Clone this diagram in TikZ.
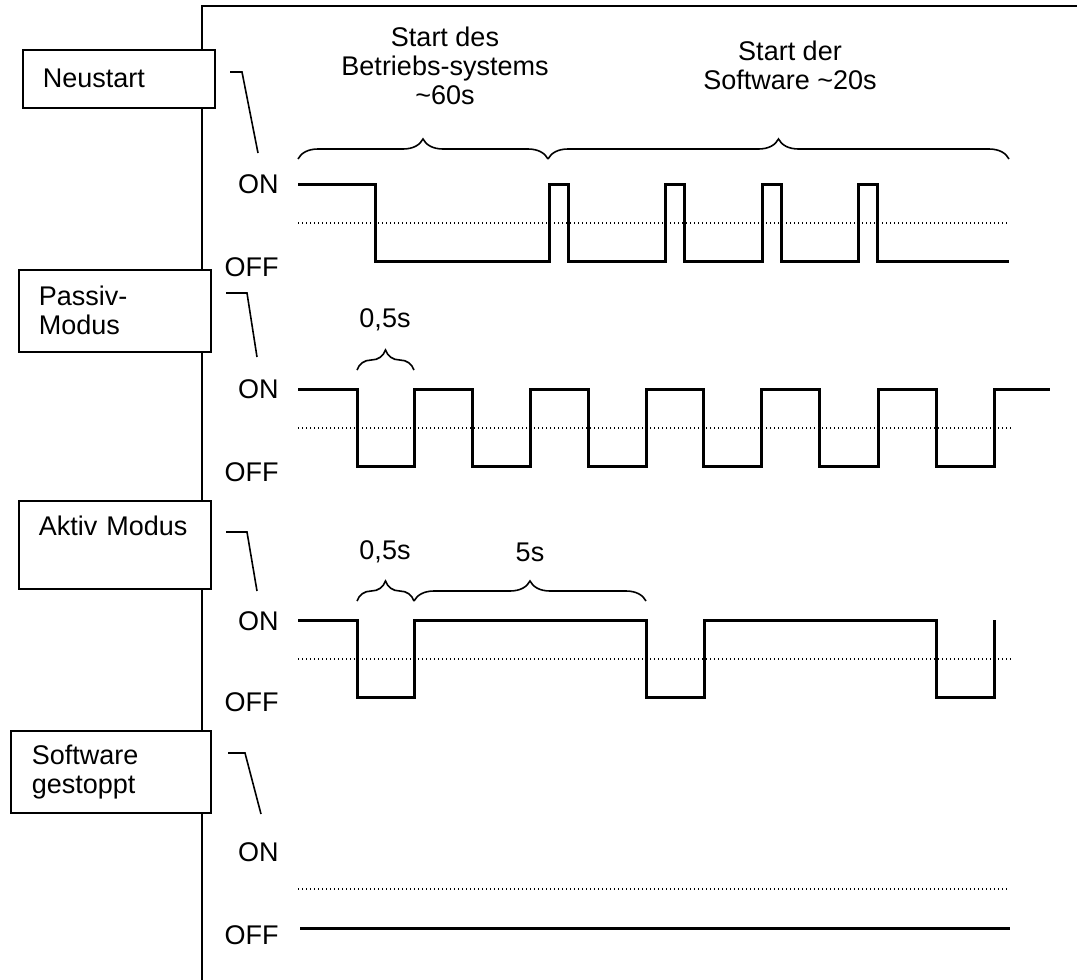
\documentclass[tikz,border=0pt]{standalone}
\usepackage{fontspec}
\setmainfont{Liberation Sans}
\usetikzlibrary{decorations.pathreplacing}

\tikzset{
  modbox/.style={draw, line width=0.8pt, fill=white, anchor=north west, align=left, inner xsep=10pt, inner ysep=0pt},
  signal/.style={black, line width=1.5pt},
  schwelle/.style={black, line width=0.6pt, dash pattern=on 0.5pt off 1.5pt},
  klammer/.style={black, line width=0.8pt, decorate, decoration={brace, amplitude=10pt}},
  pegel/.style={anchor=east, inner sep=0pt},
  haken/.style={black, line width=0.8pt},
}

\begin{document}
\begin{tikzpicture}[x=0.5pt, y=-0.5pt, font=\fontsize{13.5pt}{14.5pt}\selectfont]
        \useasboundingbox (0,0) rectangle (1077,980);

        % Rahmen
        \draw[black, line width=0.8pt] (202,980) -- (202,6) -- (1077,6);

        % Modus-Kaesten
        \node[modbox, minimum width=96pt, minimum height=29pt, text width=76pt] (neustart) at (22,49) {Neustart};
        \node[modbox, minimum width=96pt, minimum height=41pt, text width=76pt] (passiv) at (18,269) {Passiv-\\Modus};
        \node[modbox, minimum width=96pt, minimum height=44pt, text width=76pt] (aktiv) at (18,500) {Aktiv Modus\\\strut};
        \node[modbox, minimum width=100pt, minimum height=41pt, text width=79pt, inner xsep=10.5pt] (gestoppt) at (10,730) {Software\\gestoppt};

        % Haken
        \draw[haken] (230,72) -- (242,72) -- (258,153);
        \draw[haken] (226,293) -- (247,293) -- (257,357);
        \draw[haken] (226,532) -- (247,532) -- (257,591);
        \draw[haken] (228,753) -- (245,753) -- (261,814);

        % Pegel
        \node[pegel] (nOn) at (279,184) {ON};
        \node[pegel] (nOff) at (279,267) {OFF};
        \node[pegel] (pOn) at (279,389) {ON};
        \node[pegel] (pOff) at (279,472) {OFF};
        \node[pegel] (aOn) at (279,621) {ON};
        \node[pegel] (aOff) at (279,702) {OFF};
        \node[pegel] (sOn) at (279,852) {ON};
        \node[pegel] (sOff) at (279,935) {OFF};

        % Neustart
        \draw[schwelle] (298,223) -- (1009,223);
        \draw[signal] (298,184) -- (375,184) -- (375,261) -- (549,261) -- (549,184) -- (568,184) -- (568,261)
            -- (665,261) -- (665,184) -- (684,184) -- (684,261) -- (762,261) -- (762,184) -- (781,184) -- (781,261)
            -- (858,261) -- (858,184) -- (877,184) -- (877,261) -- (1009,261);
        \draw[klammer] (298,159) -- (548,159);
        \draw[klammer] (548,159) -- (1009,159);
        \node[align=center] (bsText) at (445,66) {Start des\\Betriebs-systems\\\textasciitilde 60s};
        \node[align=center] (swText) at (790,65) {Start der\\Software \textasciitilde 20s};

        % Passiv-Modus
        \draw[schwelle] (298,428) -- (1011,428);
        \draw[signal] (298,389) -- (357,389) -- (357,466) -- (414,466) -- (414,389) -- (472,389) -- (472,466)
            -- (530,466) -- (530,389) -- (588,389) -- (588,466) -- (646,466) -- (646,389) -- (703,389) -- (703,466)
            -- (761,466) -- (761,389) -- (819,389) -- (819,466) -- (878,466) -- (878,389) -- (936,389) -- (936,466)
            -- (994,466) -- (994,389) -- (1050,389);
        \draw[klammer] (357,370) -- (414,370);
        \node (pHalb) at (385,320) {0,5s};

        % Aktiv Modus
        \draw[schwelle] (298,659) -- (1011,659);
        \draw[signal] (298,620) -- (357,620) -- (357,697) -- (414,697) -- (414,620) -- (646,620) -- (646,697)
            -- (704,697) -- (704,620) -- (936,620) -- (936,697) -- (994,697) -- (994,620);
        \draw[klammer] (357,601) -- (414,601);
        \draw[klammer] (414,601) -- (646,601);
        \node (aHalb) at (385,552) {0,5s};
        \node (aFuenf) at (530,552) {5s};

        % Software gestoppt
        \draw[schwelle] (298,889) -- (1010,889);
        \draw[signal] (300,928) -- (1010,928);
    \end{tikzpicture}
\end{document}
